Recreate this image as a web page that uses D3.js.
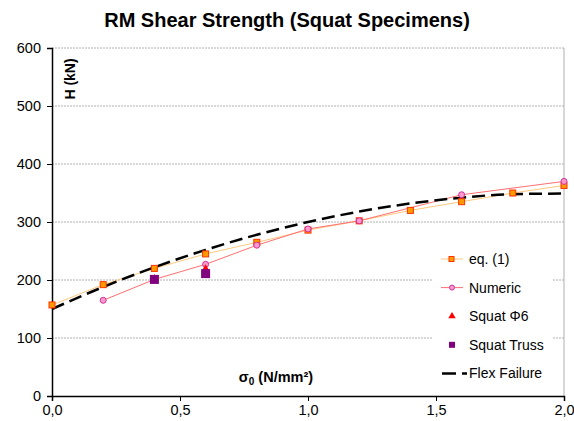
<!DOCTYPE html>
<html>
<head>
<meta charset="utf-8">
<script src="https://cdn.jsdelivr.net/npm/d3@7"></script>
<style>
	body { margin: 0; background: #fff; }
	text { font-family: Arial, "Liberation Sans", sans-serif; }
</style>
</head>
<body>
<script>
// values
const eqX = [0, 0.2, 0.4, 0.6, 0.8, 1.0, 1.2, 1.4, 1.6, 1.8, 2.0];
const eqY = [157, 192, 220, 245, 265, 286, 302, 320, 335, 350, 363];
const numX = [0.2, 0.4, 0.6, 0.8, 1.0, 1.2, 1.6, 2.0];
const numY = [165, 201, 227, 260, 288, 302, 347, 370];
const phiX = [0.4, 0.6];
const phiY = [202, 219];
const trussX = [0.4, 0.6];
const trussY = [201, 211];
const flexX = [0, 0.2, 0.4, 0.6, 0.8, 1.0, 1.2, 1.4, 1.6, 1.8, 2.0];
const flexY = [150, 188, 222, 252, 278, 300, 318, 332, 342, 348, 349];
const xTicks = [0, 0.5, 1.0, 1.5, 2.0];
const yTicks = [0, 100, 200, 300, 400, 500, 600];
const items = ['eq. (1)', 'Numeric', 'Squat Φ6', 'Squat Truss', 'Flex Failure'];

const width = 574, height = 421;
const svg = d3.select('body').append('svg')
	.attr('width', width)
	.attr('height', height);

const x = d3.scaleLinear().domain([0, 2]).range([52, 564]);
const y = d3.scaleLinear().domain([0, 600]).range([396, 48]);
const fmt = d => d3.format('.1f')(d).replace('.', ',');

// grid
svg.append('g').selectAll('line')
	.data(yTicks.filter(d => d > 0))
	.enter().append('line')
	.attr('x1', x(0)).attr('x2', x(2))
	.attr('y1', d => y(d)).attr('y2', d => y(d))
	.style('stroke', '#b0b0b0')
	.style('stroke-width', 1)
	.style('stroke-dasharray', '2,1');

// right border
svg.append('line')
	.attr('x1', x(2)).attr('x2', x(2))
	.attr('y1', y(600)).attr('y2', y(0))
	.style('stroke', '#b0b0b0');

// axes
const yAxis = svg.append('g')
	.attr('transform', `translate(${x(0)},0)`)
	.call(d3.axisLeft(y).tickValues(yTicks).tickSize(5).tickPadding(6).tickFormat(d3.format('d')));
const xAxis = svg.append('g')
	.attr('transform', `translate(0,${y(0)})`)
	.call(d3.axisBottom(x).tickValues(xTicks).tickSize(5).tickPadding(4).tickFormat(fmt));
[yAxis, xAxis].forEach(a => {
	a.select('.domain').style('stroke', '#000').style('stroke-width', 1.5);
	a.selectAll('.tick line').style('stroke', '#000');
	a.selectAll('text').style('font-size', '14.5px').style('fill', '#000')
		.style('font-family', 'Arial, "Liberation Sans", sans-serif');
});

const zip = (xs, ys) => xs.map((v, i) => [v, ys[i]]);
const line = d3.line().x(d => x(d[0])).y(d => y(d[1]));
const smooth = d3.line().x(d => x(d[0])).y(d => y(d[1])).curve(d3.curveMonotoneX);

// eq. (1)
svg.append('path')
	.attr('d', line(zip(eqX, eqY)))
	.style('fill', 'none')
	.style('stroke', '#ffc880')
	.style('stroke-width', 1);
// numeric
svg.append('path')
	.attr('d', line(zip(numX, numY)))
	.style('fill', 'none')
	.style('stroke', '#ff6f6f')
	.style('stroke-width', 1);
// flex failure
svg.append('path')
	.attr('d', smooth(zip(flexX, flexY)))
	.style('fill', 'none')
	.style('stroke', '#000')
	.style('stroke-width', 2.5)
	.style('stroke-dasharray', '13,6');

svg.append('g').selectAll('rect')
	.data(zip(eqX, eqY))
	.enter().append('rect')
	.attr('x', d => x(d[0]) - 3).attr('y', d => y(d[1]) - 3)
	.attr('width', 6).attr('height', 6)
	.style('fill', '#ff9900')
	.style('stroke', '#ff3300')
	.style('stroke-width', 1);

svg.append('g').selectAll('circle')
	.data(zip(numX, numY))
	.enter().append('circle')
	.attr('cx', d => x(d[0])).attr('cy', d => y(d[1]))
	.attr('r', 3)
	.style('fill', '#ff99cc')
	.style('stroke', '#cc3399')
	.style('stroke-width', 1);

const tri = d3.symbol().type(d3.symbolTriangle).size(30);
svg.append('g').selectAll('path')
	.data(zip(phiX, phiY))
	.enter().append('path')
	.attr('d', tri)
	.attr('transform', d => `translate(${x(d[0])},${y(d[1])})`)
	.style('fill', '#ff0000');

svg.append('g').selectAll('rect')
	.data(zip(trussX, trussY))
	.enter().append('rect')
	.attr('x', d => x(d[0]) - 4.5).attr('y', d => y(d[1]) - 4.5)
	.attr('width', 9).attr('height', 9)
	.style('fill', '#800080');

// titles
svg.append('text')
	.attr('x', 287).attr('y', 27)
	.attr('text-anchor', 'middle')
	.style('font-size', '20px').style('font-weight', 'bold')
	.text('RM Shear Strength (Squat Specimens)');

svg.append('text')
	.attr('transform', 'translate(75,79) rotate(-90)')
	.attr('text-anchor', 'middle')
	.style('font-size', '14px').style('font-weight', 'bold')
	.text('H (kN)');

const xl = svg.append('text')
	.attr('x', 276).attr('y', 382)
	.attr('text-anchor', 'middle')
	.style('font-size', '14.5px').style('font-weight', 'bold');
xl.append('tspan').text('σ');
xl.append('tspan').attr('dy', 3).style('font-size', '10px').text('0');
xl.append('tspan').attr('dy', -3).text(' (N/mm²)');

// legend
const legend = svg.append('g');
legend.append('rect')
	.attr('x', 432).attr('y', 244)
	.attr('width', 121).attr('height', 145)
	.style('fill', '#fff');
const ly = i => 259 + i * 28.6;
legend.selectAll('text')
	.data(items)
	.enter().append('text')
	.attr('x', 469)
	.attr('y', (d, i) => ly(i) + 5)
	.style('font-size', '14px')
	.text(d => d);
legend.append('line').attr('x1', 441).attr('x2', 463).attr('y1', ly(0)).attr('y2', ly(0))
	.style('stroke', '#ffc880');
legend.append('rect').attr('x', 449).attr('y', ly(0) - 2.5).attr('width', 5).attr('height', 5)
	.style('fill', '#ff9900').style('stroke', '#ff3300');
legend.append('line').attr('x1', 441).attr('x2', 463).attr('y1', ly(1)).attr('y2', ly(1))
	.style('stroke', '#ff6f6f');
legend.append('circle').attr('cx', 452).attr('cy', ly(1)).attr('r', 2.5)
	.style('fill', '#ff99cc').style('stroke', '#cc3399');
legend.append('path').attr('d', d3.symbol().type(d3.symbolTriangle).size(24))
	.attr('transform', `translate(452,${ly(2)})`).style('fill', '#ff0000');
legend.append('rect').attr('x', 449).attr('y', ly(3) - 3).attr('width', 6).attr('height', 6)
	.style('fill', '#800080');
legend.append('line').attr('x1', 442).attr('x2', 467).attr('y1', ly(4)).attr('y2', ly(4))
	.style('stroke', '#000').style('stroke-width', 2.5).style('stroke-dasharray', '14,6');
</script>
</body>
</html>
